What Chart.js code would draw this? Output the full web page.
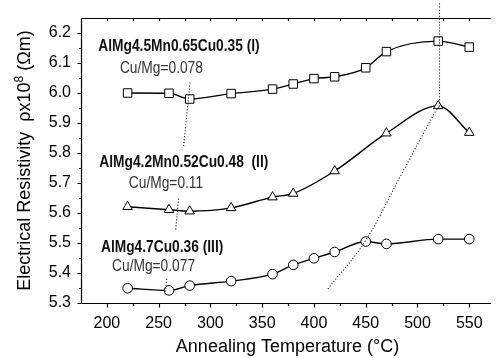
<!DOCTYPE html>
<html>
<head>
<meta charset="utf-8">
<script src="https://cdn.jsdelivr.net/npm/chart.js@4.4.1/dist/chart.umd.min.js"></script>
<style>
  html, body { margin: 0; padding: 0; background: #fff; }
  #wrap { width: 498px; height: 358px; }
</style>
</head>
<body>
<div id="wrap"><canvas id="resistivityChart"></canvas></div>
<script>
// annealing temperatures (°C)
const tempsFull = [220, 260, 280, 320, 360, 380, 400, 420, 450, 470, 520, 550];
const tempsAlloy2 = [220, 260, 280, 320, 360, 380, 420, 470, 520, 550];

// electrical resistivity rho x 10^8 (Ohm m)
const alloy1 = [6.000, 5.999, 5.980, 5.998, 6.013, 6.030, 6.048, 6.054, 6.084, 6.138, 6.173, 6.153];
const alloy2 = [5.621, 5.611, 5.606, 5.617, 5.653, 5.665, 5.740, 5.866, 5.957, 5.868];
const alloy3 = [5.349, 5.342, 5.358, 5.373, 5.396, 5.427, 5.449, 5.470, 5.505, 5.497, 5.513, 5.513];

// dotted guide lines [temp, rho]
const guideLow = [[280.3, 6.035], [274, 5.819], [272, null], [269.2, 5.648], [266.4, 5.542], [262, null], [257.9, 5.381], [256, 5.326]];
const guideHigh = [[413.5, 5.347], [449.5, 5.506], [484.5, 5.729], [517.5, 5.939], [521.3, 5.955]];
const guidePeak = [[521.3, 5.955], [521.3, 6.3]];

// axis ticks
const xTicks = [200, 250, 300, 350, 400, 450, 500, 550];
const xMinor = [225, 275, 325, 375, 425, 475, 525];
const yTicks = [5.3, 5.4, 5.5, 5.6, 5.7, 5.8, 5.9, 6.0, 6.1, 6.2];
const yMinor = [5.35, 5.45, 5.55, 5.65, 5.75, 5.85, 5.95, 6.05, 6.15];

// alloy labels, anchored at [temp, rho]
const notes = [
  { text: 'AlMg4.5Mn0.65Cu0.35 (I)', bold: true, at: [191.7, 6.139] },
  { text: 'Cu/Mg=0.078', at: [212.6, 6.068] },
  { text: 'AlMg4.2Mn0.52Cu0.48  (II)', bold: true, at: [192.7, 5.753] },
  { text: 'Cu/Mg=0.11', at: [221.2, 5.685] },
  { text: 'AlMg4.7Cu0.36 (III)', bold: true, at: [194.3, 5.471] },
  { text: 'Cu/Mg=0.077', at: [205, 5.406] }
];

const FONT = '"Liberation Sans", Arial, sans-serif';

function toPoints(xs, ys) {
  return xs.map((t, i) => ({ x: t, y: ys[i] }));
}
function pairs(arr) {
  return arr.map(p => ({ x: p[0], y: p[1] }));
}

function seriesSet(data, style, radius) {
  return {
    data: data,
    borderColor: '#000',
    borderWidth: 1.4,
    backgroundColor: '#fff',
    pointStyle: style,
    pointRadius: radius,
    pointBorderWidth: 1,
    pointBackgroundColor: '#fff',
    pointBorderColor: '#000',
    cubicInterpolationMode: 'monotone',
    fill: false
  };
}
function guideSet(data, clip) {
  return {
    data: data,
    borderColor: '#000',
    borderWidth: 1.1,
    borderDash: [1, 2],
    pointRadius: 0,
    tension: 0.35,
    spanGaps: false,
    fill: false,
    clip: clip
  };
}

const axesPlugin = {
  id: 'axesPlugin',
  afterDraw(chart) {
    const ctx = chart.ctx;
    const a = chart.chartArea;
    const xs = chart.scales.x;
    const ys = chart.scales.y;
    ctx.save();
    ctx.strokeStyle = '#000';
    ctx.lineWidth = 1.2;
    const L = Math.round(a.left) + 0.5;
    const B = Math.round(a.bottom) + 0.5;
    const T = Math.round(a.top) + 0.5;
    ctx.beginPath();
    ctx.moveTo(L, T); ctx.lineTo(L, B); ctx.lineTo(a.right, B);
    ctx.moveTo(L, T); ctx.lineTo(a.right, T);
    // bottom ticks
    xTicks.forEach(v => { const p = Math.round(xs.getPixelForValue(v)) + 0.5; ctx.moveTo(p, B); ctx.lineTo(p, B + 4); });
    xMinor.forEach(v => { const p = Math.round(xs.getPixelForValue(v)) + 0.5; ctx.moveTo(p, B); ctx.lineTo(p, B + 2.5); });
    // top ticks
    xTicks.concat(xMinor).forEach(v => { const p = Math.round(xs.getPixelForValue(v)) + 0.5; ctx.moveTo(p, T); ctx.lineTo(p, T + 2.5); });
    // left ticks
    yTicks.forEach(v => { const p = Math.round(ys.getPixelForValue(v)) + 0.5; ctx.moveTo(L, p); ctx.lineTo(L - 4, p); });
    yMinor.forEach(v => { const p = Math.round(ys.getPixelForValue(v)) + 0.5; ctx.moveTo(L, p); ctx.lineTo(L - 2.5, p); });
    ctx.stroke();

    // alloy notes
    notes.forEach(n => {
      ctx.save();
      ctx.translate(xs.getPixelForValue(n.at[0]), ys.getPixelForValue(n.at[1]));
      ctx.scale(0.86, 1);
      ctx.font = (n.bold ? 'bold ' : '') + '16px ' + FONT;
      ctx.fillStyle = n.bold ? '#111' : '#333';
      ctx.textBaseline = 'alphabetic';
      ctx.textAlign = 'left';
      ctx.fillText(n.text, 0, 0);
      ctx.restore();
    });

    // x title
    ctx.fillStyle = '#000';
    ctx.font = '18px ' + FONT;
    ctx.textAlign = 'center';
    ctx.textBaseline = 'alphabetic';
    ctx.fillText('Annealing Temperature (\u00B0C)', (a.left + a.right) / 2 + 1.5, 352);

    // y title with superscript
    const big = '18px ' + FONT;
    const small = '12px ' + FONT;
    const parts = [['Electrical Resistivity  \u03C1x10', big, 0], ['8', small, -7], [' (\u03A9m)', big, 0]];
    ctx.translate(29.5, (a.top + a.bottom) / 2);
    ctx.rotate(-Math.PI / 2);
    let total = 0;
    parts.forEach(p => { ctx.font = p[1]; total += ctx.measureText(p[0]).width; });
    let pos = -total / 2;
    ctx.textAlign = 'left';
    parts.forEach(p => { ctx.font = p[1]; ctx.fillText(p[0], pos, p[2]); pos += ctx.measureText(p[0]).width; });
    ctx.restore();
  }
};

document.addEventListener('DOMContentLoaded', function () {
  const ctx = document.getElementById('resistivityChart').getContext('2d');
  new Chart(ctx, {
    type: 'line',
    data: {
      datasets: [
        guideSet(pairs(guideLow), true),
        guideSet(pairs(guideHigh), true),
        guideSet(pairs(guidePeak), false),
        seriesSet(toPoints(tempsFull, alloy1), 'rect', 6),
        seriesSet(toPoints(tempsAlloy2, alloy2), 'triangle', 5.5),
        seriesSet(toPoints(tempsFull, alloy3), 'circle', 4.8)
      ]
    },
    options: {
      responsive: true,
      maintainAspectRatio: false,
      animation: false,
      layout: { padding: { top: 9, right: 0, left: 0, bottom: 0 } },
      plugins: {
        legend: { display: false },
        tooltip: { enabled: false }
      },
      scales: {
        x: {
          type: 'linear',
          min: 175,
          max: 571,
          grid: { display: false, drawTicks: false },
          border: { display: false },
          afterBuildTicks: s => { s.ticks = xTicks.map(v => ({ value: v })); },
          afterFit: s => { s.height = 55; },
          ticks: {
            padding: 13,
            color: '#000',
            maxRotation: 0,
            font: { family: FONT, size: 16, lineHeight: 1 }
          }
        },
        y: {
          min: 5.3,
          max: 6.25,
          grid: { display: false, drawTicks: false },
          border: { display: false },
          afterBuildTicks: s => { s.ticks = yTicks.map(v => ({ value: v })); },
          afterFit: s => { s.width = 81; },
          ticks: {
            padding: 10,
            color: '#000',
            font: { family: FONT, size: 16, lineHeight: 1 },
            callback: v => v.toFixed(1)
          }
        }
      }
    },
    plugins: [axesPlugin]
  });
});
</script>
</body>
</html>
